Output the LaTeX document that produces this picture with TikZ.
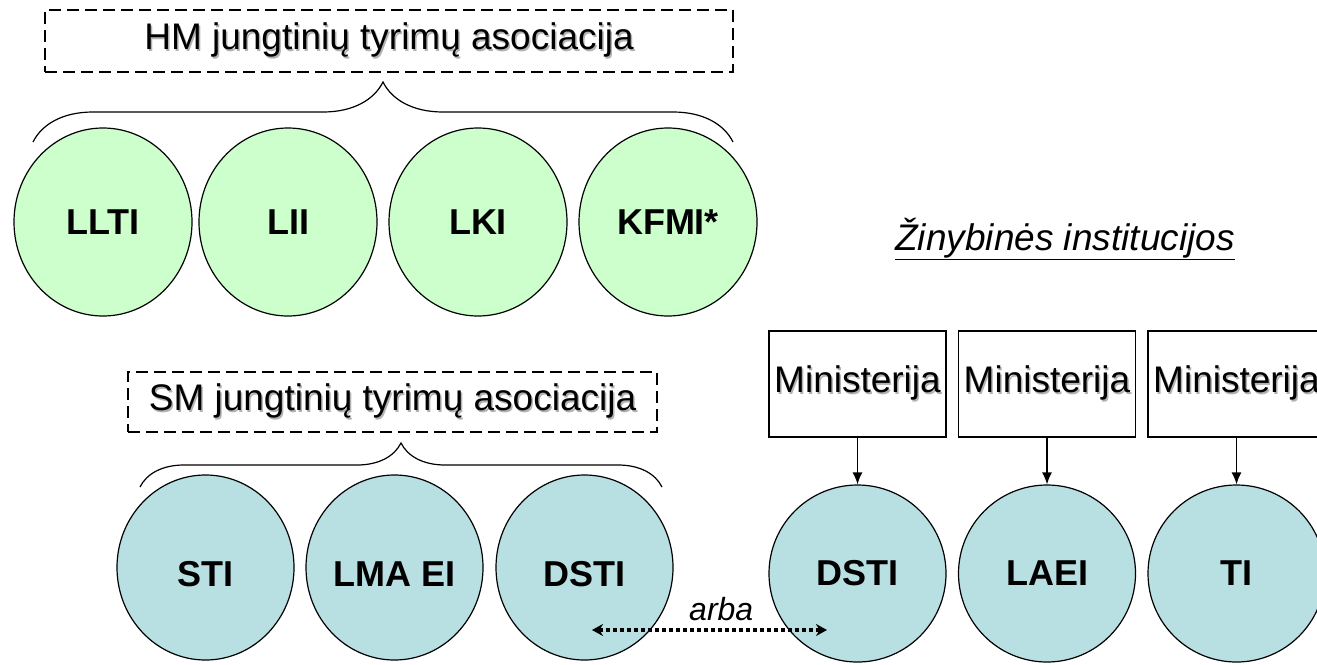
\documentclass[tikz,border=0pt]{standalone}
\usepackage{fontspec}
\setmainfont{Liberation Sans}
\usepackage{xcolor}
\usetikzlibrary{shapes.geometric, arrows.meta, decorations.pathreplacing}

\definecolor{hmGreen}{HTML}{CCFFCC}
\definecolor{smBlue}{HTML}{B8DFE2}

% Text with a soft drop shadow
\newcommand{\shtxt}[1]{\rlap{\kern1.5pt\raisebox{-1.5pt}{\textcolor{black!30}{#1}}}#1}

\begin{document}
\begin{tikzpicture}[x=1pt, y=-1pt]

    % Canvas
    \useasboundingbox (0,0) rectangle (1317,664);
    \clip (0,0) rectangle (1317,664);

    % Institutes
    \tikzset{iE/.style={draw=black, line width=1.2pt, shape=ellipse, inner sep=0pt, font=\fontsize{36}{40}\selectfont\bfseries}}
    \tikzset{hmE/.style={iE, fill=hmGreen, minimum width=178pt, minimum height=188pt}}
    \tikzset{smE/.style={iE, fill=smBlue, minimum width=177pt, minimum height=185pt, text height=37pt, text depth=0pt}}
    \tikzset{zC/.style={iE, fill=smBlue, minimum width=177pt, minimum height=177pt}}

    % Associations and ministries
    \tikzset{aB/.style={draw=black, line width=1.8pt, dash pattern=on 12pt off 6pt, inner sep=0pt, font=\fontsize{37}{40}\selectfont}}
    \tikzset{mB/.style={draw=black, line width=1.2pt, inner sep=0pt, minimum width=177pt, minimum height=106pt, font=\fontsize{37}{40}\selectfont}}

    % Braces and arrows
    \tikzset{bR/.style={draw=black, line width=1.2pt, decorate, decoration={brace, amplitude=#1}}}
    \tikzset{mA/.style={draw=black, line width=1.4pt, -{Latex[length=12pt, width=10pt]}}}
    \tikzset{oA/.style={draw=black, line width=3.5pt, dash pattern=on 4pt off 3pt, {Stealth[length=11pt, width=12pt]}-{Stealth[length=11pt, width=12pt]}}}

    % HM association
    \node (hmA) [aB, minimum width=688pt, minimum height=62pt] at (389, 41) {\shtxt{HM jungtinių tyrimų asociacija}};
    	\coordinate (hmL) at (33, 142);
    	\coordinate (hmR) at (733, 142);
    		\node (LLTI) [hmE] at (103, 222) {LLTI};
    		\node (LII) [hmE] at (288, 222) {LII};
    		\node (LKI) [hmE] at (478, 222) {LKI};
    		\node (KFMI) [hmE] at (668, 222) {KFMI*};

    % SM association
    \node (smA) [aB, minimum width=529pt, minimum height=60pt] at (392.5, 402) {\shtxt{SM jungtinių tyrimų asociacija}};
    	\coordinate (smL) at (140, 487);
    	\coordinate (smR) at (662, 487);
    		\node (STI) [smE] at (205.5, 567.5) {STI};
    		\node (LMAEI) [smE] at (394.5, 567.5) {LMA EI};
    		\node (DSTIs) [smE] at (584.5, 567.5) {DSTI};

    % Departmental institutes
    \node (zI) [anchor=base, font=\fontsize{37}{40}\selectfont\itshape] at (1065, 250) {\underline{Žinybinės institucijos}};
    	\node (m1) [mB] at (857.5, 384) {\shtxt{Ministerija}};
    	\node (m2) [mB] at (1047, 384) {\shtxt{Ministerija}};
    	\node (m3) [mB] at (1236.5, 384) {\shtxt{Ministerija}};
    		\node (DSTIz) [zC] at (857.5, 573.5) {DSTI};
    		\node (LAEI) [zC] at (1047, 573.5) {LAEI};
    		\node (TI) [zC] at (1236.5, 573.5) {TI};

    % Links
    \path[bR=60pt] (hmL) -- (hmR);
    \path[bR=44pt] (smL) -- (smR);
    \path[mA] (m1) -- (DSTIz);
    \path[mA] (m2) -- (LAEI);
    \path[mA] (m3) -- (TI);

    % Either one or the other
    \coordinate (arL) at (592, 630);
    \coordinate (arR) at (827, 630);
    \path[oA] (arL) -- node[pos=0.55, above=7pt, inner sep=0pt, font=\fontsize{32}{36}\selectfont\itshape] {arba} (arR);

\end{tikzpicture}
\end{document}
